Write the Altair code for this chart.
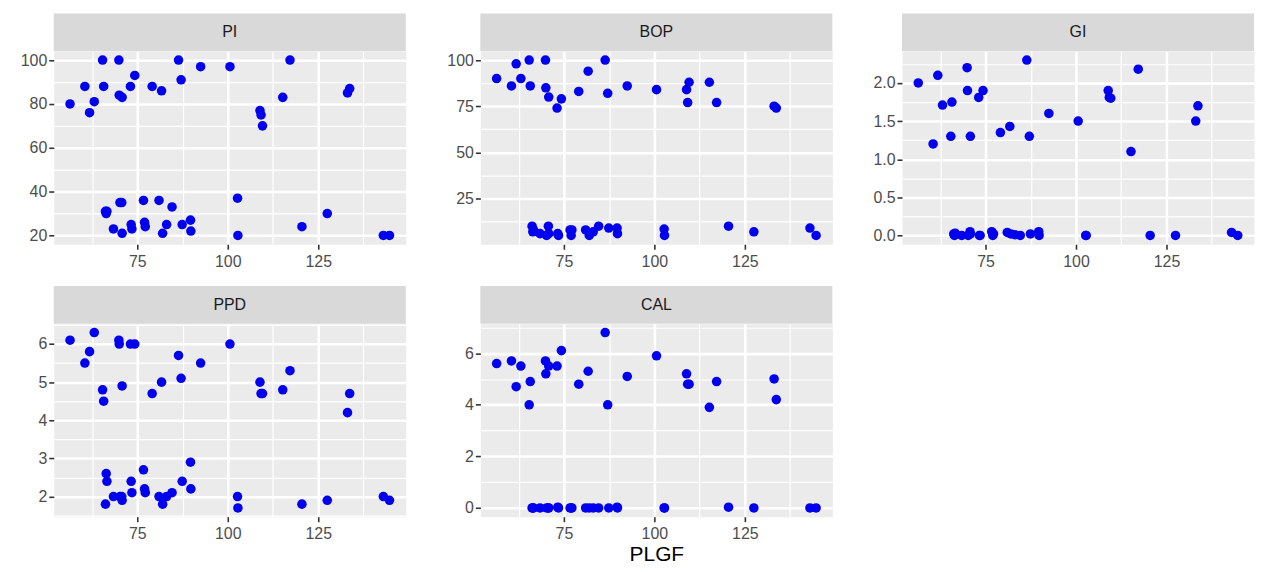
import altair as alt
import pandas as pd

# ---------------- data ----------------
PANELS = ["PI", "BOP", "GI", "PPD", "CAL"]

PLGF_HIGH = [56.4, 60.5, 61.8, 63.1, 65.4, 65.7, 69.9, 70.0, 70.8, 73.1, 74.3, 79.1,
             81.7, 86.4, 87.1, 92.5, 100.6, 108.9, 109.2, 109.6, 115.2, 117.2, 133.1, 133.7]
PI_HIGH = [80, 88, 76, 81, 100, 88, 100, 84, 83, 88, 93, 88,
           86, 100, 91, 97, 97, 77, 75, 70, 83, 100, 85, 87]
BOP_HIGH = [90, 86, 98, 90, 100, 86, 100, 85, 80, 74, 79, 83,
            94, 100, 82, 86, 84, 84, 77, 88, 88, 77, 75, 74]
GI_HIGH = [2.0, 1.2, 2.1, 1.71, 1.3, 1.75, 2.2, 1.9, 1.3, 1.81, 1.9, 1.35,
           1.43, 2.3, 1.3, 1.6, 1.5, 1.9, 1.81, 1.8, 1.1, 2.18, 1.5, 1.7]
PPD_HIGH = [6.1, 5.5, 5.8, 6.3, 4.8, 4.5, 6.1, 6.0, 4.9, 6.0, 6.0, 4.7,
            5.0, 5.7, 5.1, 5.5, 6.0, 5.0, 4.7, 4.7, 4.8, 5.3, 4.2, 4.7]
CAL_HIGH = [5.6, 5.7, 4.7, 5.5, 4.0, 4.9, 5.7, 5.2, 5.5, 5.5, 6.1, 4.8,
            5.3, 6.8, 4.0, 5.1, 5.9, 5.2, 4.8, 4.8, 3.9, 4.9, 5.0, 4.2]

PLGF_LOW = [66.2, 66.4, 66.6, 68.4, 70.2, 70.7, 70.8, 73.3, 73.5, 76.7, 77.0, 77.2,
            81.0, 82.0, 83.1, 84.6, 87.4, 89.7, 89.8, 102.7, 102.8, 120.5, 127.5, 143.0, 144.7]
PI_LOW = [31, 30, 31, 23, 35, 35, 21, 25, 23, 36, 26, 24,
          36, 21, 25, 33, 25, 27, 22, 37, 20, 24, 30, 20, 20]
BOP_LOW = [10, 7, 8, 6, 5, 10, 6, 6, 5, 8, 5, 8,
           8, 5, 7, 10, 9, 9, 6, 8.5, 5, 10, 7, 9, 5]
GI_LOW = [0.02, 0.0, 0.03, 0.0, 0.0, 0.05, 0.02, 0.0, 0.0, 0.05, 0.0, 0.02,
          0.04, 0.02, 0.01, 0.0, 0.02, 0.05, 0.0, 0.0, 0.0, 0.0, 0.0, 0.04, 0.0]
PPD_LOW = [1.8, 2.6, 2.4, 2.0, 2.0, 2.0, 1.9, 2.4, 2.1, 2.7, 2.2, 2.1,
           2.0, 1.8, 2.0, 2.1, 2.4, 2.9, 2.2, 2.0, 1.7, 1.8, 1.9, 2.0, 1.9]
CAL_LOW = [0.0, 0.0, 0.0, 0.0, 0.0, 0.0, 0.0, 0.03, 0.0, 0.0, 0.0, 0.0,
           0.0, 0.0, 0.0, 0.0, 0.0, 0.03, 0.0, 0.0, 0.0, 0.03, 0.0, 0.0, 0.0]

X_TICKS = [75, 100, 125]
X_MINOR = [62.5, 87.5, 112.5, 137.5]
X_DOMAIN = [51.9, 149.2]

Y_DOMAIN = {"PI": [16, 104], "BOP": [0.25, 104.75], "GI": [-0.115, 2.415],
            "PPD": [1.47, 6.53], "CAL": [-0.34, 7.14]}
Y_TICKS = {"PI": [20, 40, 60, 80, 100], "BOP": [25, 50, 75, 100],
           "GI": [0.0, 0.5, 1.0, 1.5, 2.0], "PPD": [2, 3, 4, 5, 6], "CAL": [0, 2, 4, 6]}
Y_MINOR = {"PI": [30, 50, 70, 90], "BOP": [12.5, 37.5, 62.5, 87.5],
           "GI": [0.25, 0.75, 1.25, 1.75, 2.25], "PPD": [1.5, 2.5, 3.5, 4.5, 5.5, 6.5],
           "CAL": [1, 3, 5, 7]}
Y_FORMAT = {"PI": "d", "BOP": "d", "GI": ".1f", "PPD": "d", "CAL": "d"}

values_high = {"PI": PI_HIGH, "BOP": BOP_HIGH, "GI": GI_HIGH, "PPD": PPD_HIGH, "CAL": CAL_HIGH}
values_low = {"PI": PI_LOW, "BOP": BOP_LOW, "GI": GI_LOW, "PPD": PPD_LOW, "CAL": CAL_LOW}

rows = []
for p in PANELS:
    for x, v in zip(PLGF_HIGH, values_high[p]):
        rows.append({"PLGF": x, "var": p, "value": v})
    for x, v in zip(PLGF_LOW, values_low[p]):
        rows.append({"PLGF": x, "var": p, "value": v})
df = pd.DataFrame(rows)

# ---------------- layout ----------------
W = 354
H = 194
STRIP = 38
FONT = "Liberation Sans"
POINT_COLOR = "#0000EE"


def panel(name, y_extent, x_title=None):
    d = df[df["var"] == name]
    xs = alt.Scale(domain=X_DOMAIN, nice=False, zero=False)
    ys = alt.Scale(domain=Y_DOMAIN[name], nice=False, zero=False)
    base = alt.Chart(d)

    minor = base.mark_circle(opacity=0).encode(
        x=alt.X("PLGF:Q", scale=xs,
                axis=alt.Axis(orient="top", values=X_MINOR, labels=False, ticks=False,
                              domain=False, grid=True, gridWidth=1.2, gridColor="white",
                              minExtent=0, maxExtent=0, title=None)),
        y=alt.Y("value:Q", scale=ys,
                axis=alt.Axis(orient="right", values=Y_MINOR[name], labels=False, ticks=False,
                              domain=False, grid=True, gridWidth=1.2, gridColor="white",
                              minExtent=0, maxExtent=0, title=None)),
    )

    pts = base.mark_circle(size=92, color=POINT_COLOR, opacity=1).encode(
        x=alt.X("PLGF:Q", scale=xs,
                axis=alt.Axis(orient="bottom", values=X_TICKS, format="d", title=x_title,
                              grid=True, gridWidth=2.6, gridColor="white",
                              labelPadding=4, minExtent=25, maxExtent=25, titlePadding=2)),
        y=alt.Y("value:Q", scale=ys,
                axis=alt.Axis(orient="left", values=Y_TICKS[name], format=Y_FORMAT[name],
                              grid=True, gridWidth=2.6, gridColor="white",
                              title=None, minExtent=y_extent, maxExtent=y_extent)),
    )

    strip_df = pd.DataFrame({"label": [name]})
    strip = alt.Chart(strip_df).mark_rect(color="#D9D9D9").encode(
        x=alt.value(0), x2=alt.value(W), y=alt.value(-STRIP), y2=alt.value(0)
    )
    txt = alt.Chart(strip_df).mark_text(
        font=FONT, fontSize=16, color="#1A1A1A", baseline="middle", align="center"
    ).encode(text="label:N", x=alt.value(W / 2), y=alt.value(-STRIP / 2))

    return alt.layer(minor, pts, strip, txt).resolve_axis(
        x="independent", y="independent"
    ).properties(width=W, height=H)


row1 = alt.hconcat(panel("PI", 34), panel("BOP", 34), panel("GI", 29), spacing=39)
row2 = alt.hconcat(panel("PPD", 34), panel("CAL", 34, x_title="PLGF"), spacing=39)

chart = alt.vconcat(row1, row2, spacing=15).properties(
    padding={"left": 11, "top": 3, "right": 0, "bottom": 0},
    background="white",
).configure_view(
    fill="#EBEBEB", stroke="transparent"
).configure_axis(
    labelFont=FONT, labelFontSize=16, labelColor="#4D4D4D",
    tickColor="#333333", tickSize=5, tickWidth=1.6, labelPadding=2,
    domain=False, gridColor="white", gridWidth=2.6,
    titleFont=FONT, titleFontSize=21, titleColor="black", titleFontWeight="normal"
)

chart.save("out.html", embed_options={"renderer": "svg", "actions": False})
